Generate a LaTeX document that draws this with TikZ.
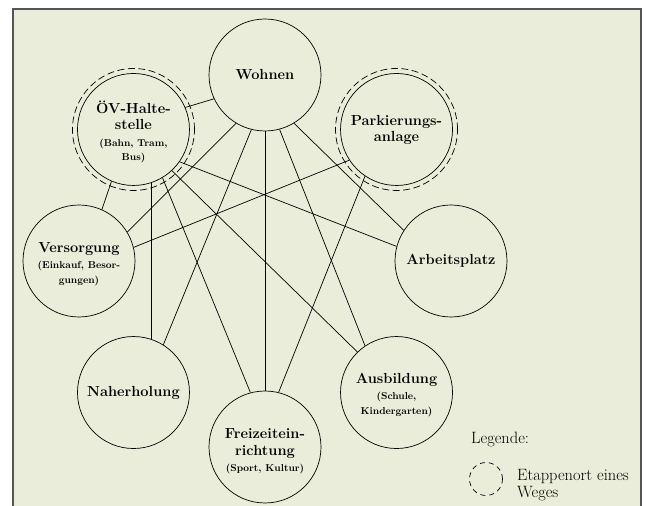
\documentclass[tikz,border=0pt]{standalone}
\usepackage{tikz}
\usetikzlibrary{calc}
\definecolor{grund}{RGB}{233,237,217}
\definecolor{rahmen}{RGB}{85,85,85}
\newcommand*{\klein}[1]{{\fontsize{10}{13}\selectfont #1}}
\tikzset{
  ort/.style={circle,draw,line width=.7pt,minimum size=112pt,inner sep=0pt,
    align=center,font=\bfseries\fontsize{14.6}{17}\selectfont},
  etappe/.style={draw,line width=.7pt,dash pattern=on 7pt off 3.5pt},
  weg/.style={line width=.7pt},
  legtext/.style={inner sep=0pt,align=left,font=\fontsize{16.4}{17}\selectfont}
}

\begin{document}
\begin{tikzpicture}[x=1pt,y=1pt]
\useasboundingbox (0,0) rectangle (648,506);
\fill[grund] (13,-5) rectangle (641,497);
\draw[rahmen,line width=1.5pt] (13,-5) -- (13,497) -- (641,497) -- (641,-5);
\coordinate (M) at (265,245);
\node[ort] (wohnen) at ($(M)+(90:186)$) {Wohnen};
\node[ort] (oev) at ($(M)+(135:186)$) {\rule{0pt}{17pt}ÖV-Halte-\\[-1pt]stelle\\\klein{(Bahn, Tram,}\\[-3pt]\klein{Bus)}};
\node[ort] (park) at ($(M)+(45:186)$) {Parkierungs-\\[-1pt]anlage};
\node[ort] (versorgung) at ($(M)+(180:186)$) {\rule{0pt}{17pt}Versorgung\\[-1pt]\klein{(Einkauf, Besor-}\\[-2pt]\klein{gungen)}};
\node[ort] (arbeit) at ($(M)+(0:186)$) {Arbeitsplatz};
\node[ort] (naherholung) at ($(M)+(225:186)$) {Naherholung};
\node[ort] (freizeit) at ($(M)+(270:186)$) {\rule{0pt}{19pt}Freizeitein-\\richtung\\[-1pt]\klein{(Sport, Kultur)}};
\node[ort] (ausbildung) at ($(M)+(315:186)$) {\rule{0pt}{16pt}Ausbildung\\[-1pt]\klein{(Schule,}\\[-2pt]\klein{Kindergarten)}};
\draw[etappe] (oev) circle (61);
\draw[etappe] (park) circle (61);
\foreach \a/\b in {wohnen.205/oev.23, wohnen.239/versorgung.31, wohnen.256/naherholung.58,
    wohnen.270/freizeit.90, wohnen.285/ausbildung.124, wohnen.301/arbeit.147,
    oev.247/versorgung.66, oev.288/naherholung.72, oev.301/freizeit.105,
    oev.313/ausbildung.134, oev.325/arbeit.165,
    park.213/versorgung.14, park.236/freizeit.76}
  \draw[weg] (\a) -- (\b);
\node[legtext,anchor=base west] (legende) at (471,62) {Legende:};
\node[circle,minimum size=33pt,draw,line width=.7pt,dash pattern=on 5pt off 4pt] (legkreis) at (486,27) {};
\node[legtext,anchor=base west] (legerkl) at (517,8) {Etappenort eines\\Weges};
\end{tikzpicture}
\end{document}
